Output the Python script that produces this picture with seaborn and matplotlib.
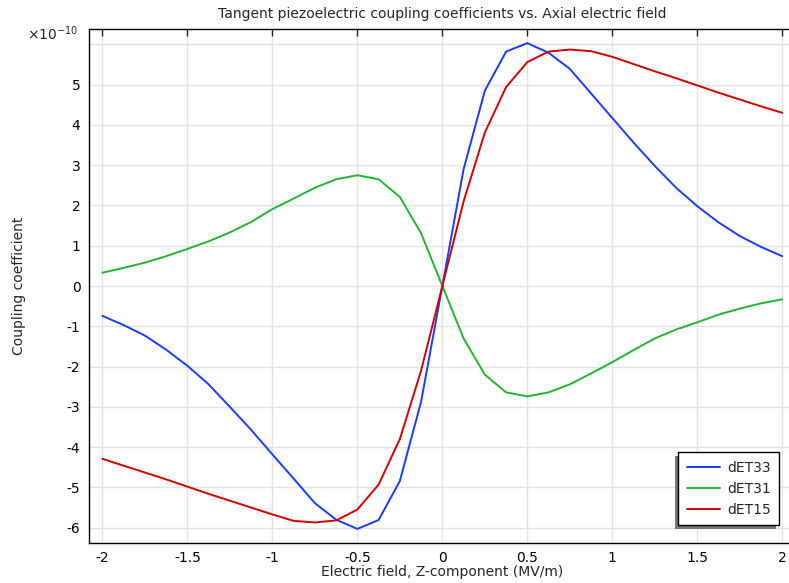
"""
Tangent piezoelectric coupling coefficients vs. axial electric field
"""

import numpy as np
import pandas as pd
import seaborn as sns
import matplotlib.pyplot as plt
from matplotlib.patches import Rectangle

# Electric field, Z-component (MV/m)
field = [-2.0, -1.875, -1.75, -1.625, -1.5, -1.375, -1.25, -1.125, -1.0,
         -0.875, -0.75, -0.625, -0.5, -0.375, -0.25, -0.125, 0.0,
         0.125, 0.25, 0.375, 0.5, 0.625, 0.75, 0.875, 1.0,
         1.125, 1.25, 1.375, 1.5, 1.625, 1.75, 1.875, 2.0]

# coupling coefficients, in units of 1e-10
dET33 = [-0.74, -0.97, -1.23, -1.58, -1.98, -2.44, -3.0, -3.57, -4.18,
         -4.78, -5.39, -5.80, -6.03, -5.81, -4.84, -2.87, 0.0,
         2.90, 4.85, 5.82, 6.03, 5.79, 5.39, 4.78, 4.17,
         3.56, 2.98, 2.44, 1.98, 1.58, 1.24, 0.97, 0.74]
dET31 = [0.33, 0.45, 0.58, 0.74, 0.92, 1.11, 1.33, 1.59, 1.91,
         2.17, 2.44, 2.65, 2.75, 2.65, 2.21, 1.31, 0.0,
         -1.30, -2.20, -2.64, -2.74, -2.64, -2.44, -2.17, -1.89,
         -1.59, -1.30, -1.08, -0.90, -0.71, -0.56, -0.43, -0.33]
dET15 = [-4.29, -4.46, -4.63, -4.80, -4.98, -5.16, -5.33, -5.50, -5.67,
         -5.83, -5.87, -5.82, -5.55, -4.93, -3.80, -2.10, 0.0,
         2.10, 3.81, 4.94, 5.56, 5.82, 5.87, 5.83, 5.69,
         5.51, 5.33, 5.16, 4.98, 4.80, 4.63, 4.46, 4.30]

series = ['dET33', 'dET31', 'dET15']
colors = ['#1a3cff', '#22b532', '#d20000']


def plot():
    df = pd.concat([
        pd.DataFrame({'field': field, 'value': v, 'series': name})
        for name, v in zip(series, [dET33, dET31, dET15])
    ])

    sns.set_theme(style='whitegrid')
    plt.rcParams['font.family'] = ['DejaVu Sans']
    plt.rcParams['axes.unicode_minus'] = False

    fig = plt.figure(figsize=(7.89, 5.83), dpi=100)
    ax = fig.add_axes([0.1125, 0.0686, 0.8963, 0.8816])

    sns.lineplot(data=df, x='field', y='value', hue='series',
                 hue_order=series, palette=colors, linewidth=1.4, ax=ax)

    ax.set_xlim(-2.08, 2.08)
    ax.set_ylim(-6.38, 6.38)
    ax.set_xticks(np.arange(-2, 2.01, 0.5))
    ax.set_xticklabels(['-2', '-1.5', '-1', '-0.5', '0', '0.5', '1', '1.5', '2'])
    ax.set_yticks(range(-6, 7))
    ax.set_yticklabels([str(t) for t in range(-6, 6)] + [''])

    ax.set_facecolor('white')
    ax.grid(True, color='#e3e3e3', linewidth=1.0)
    for s in ax.spines.values():
        s.set_color('black')
        s.set_linewidth(1.0)
    ax.tick_params(axis='both', direction='in', length=5, width=1,
                   color='#222222', labelsize=10, labelcolor='black',
                   top=True, right=True, pad=6)

    ax.set_title('Tangent piezoelectric coupling coefficients vs. Axial electric field',
                 fontsize=10, pad=8)
    ax.set_xlabel('Electric field, Z-component (MV/m)', fontsize=10, labelpad=0)
    ax.set_ylabel('Coupling coefficient', fontsize=10, labelpad=29)
    ax.text(-0.087, 0.99, r'$\times10^{-10}$', transform=ax.transAxes,
            fontsize=10, ha='left', va='center')

    leg = ax.legend(loc='lower right', bbox_to_anchor=(0.976, 0.035),
                    borderaxespad=0, fancybox=False, framealpha=1,
                    edgecolor='black', fontsize=10, handlelength=2.4,
                    handletextpad=0.5, labelspacing=0.5, borderpad=0.6)
    leg.get_frame().set_linewidth(1.0)

    # shadow toward lower left, drawn behind the legend box
    fig.canvas.draw()
    bb = leg.get_window_extent()
    ax.add_artist(Rectangle((bb.x0 - 3, bb.y0 - 4), bb.width, bb.height,
                            transform=None, facecolor='#777777',
                            edgecolor='none', zorder=4.9, clip_on=False))

    plt.savefig('out.png', dpi=100)


if __name__ == "__main__":
    plot()
